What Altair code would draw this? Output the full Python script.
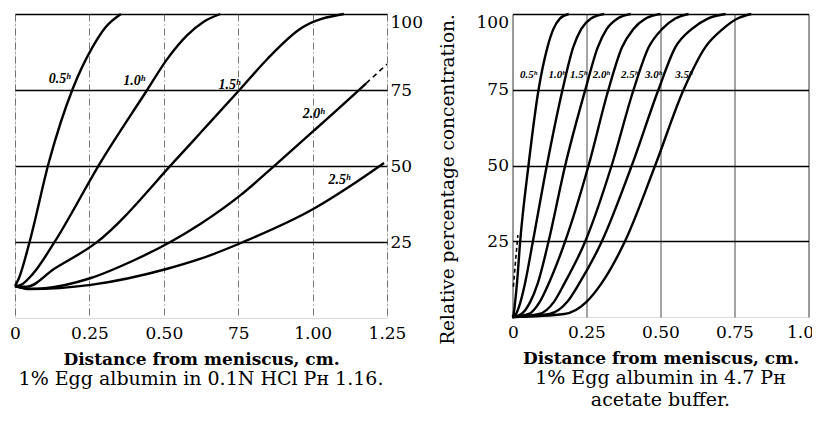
import altair as alt
import pandas as pd

FONT = "DejaVu Serif"
LABEL_FONT = "Liberation Serif"

# ---------------- Left panel: 1% egg albumin in 0.1N HCl ----------------
L_X_TICKS = [0, 0.25, 0.5, 0.75, 1.0, 1.25]
L_X_LABELS = ["0", "0.25", "0.50", "75", "1.00", "1.25"]
Y_TICKS = [25, 50, 75, 100]
Y_LABELS = ["25", "50", "75", "100"]

L_NAMES = ["0.5ʰ", "1.0ʰ", "1.5ʰ", "2.0ʰ", "2.5ʰ"]
L05_X = [0, 0.012, 0.049, 0.114, 0.194, 0.26, 0.305, 0.356]
L05_Y = [10.5, 12.8, 25, 51.3, 75.4, 89, 95.7, 100]
L10_X = [0, 0.02, 0.06, 0.131, 0.288, 0.444, 0.51, 0.578, 0.633, 0.69]
L10_Y = [10.5, 10.9, 14.5, 24.7, 51.3, 75, 85, 93, 97.4, 100]
L15_X = [0, 0.04, 0.132, 0.272, 0.54, 0.624, 0.758, 0.848, 0.96, 1.105]
L15_Y = [10.5, 10.3, 16.2, 24.7, 52, 61, 75.4, 85.2, 95.2, 100]
L20_X = [0, 0.05, 0.1, 0.25, 0.4, 0.522, 0.624, 0.758, 0.88, 1.005, 1.16, 1.18]
L20_Y = [10.5, 9.6, 9.8, 13, 19, 25, 31, 40.4, 50.8, 61.7, 75.4, 77.2]
L25_X = [0, 0.05, 0.255, 0.512, 0.624, 0.767, 1.005, 1.128, 1.24]
L25_Y = [10.5, 9.5, 10.9, 16.2, 19.5, 25, 36, 43.5, 51]
L20_DASH_X = [1.18, 1.25]
L20_DASH_Y = [77.2, 83.5]
L_LABEL_X = [0.15, 0.40, 0.72, 1.003, 1.09]
L_LABEL_Y = [78.7, 78.0, 76.5, 67.2, 45.3]

# ---------------- Right panel: 1% egg albumin in 4.7 pH acetate buffer ----------------
R_X_TICKS = [0, 0.25, 0.5, 0.75, 1.0]
R_X_LABELS = ["0", "0.25", "0.50", "0.75", "1.0"]
R_NAMES = ["0.5ʰ", "1.0ʰ", "1.5ʰ", "2.0ʰ", "2.5ʰ", "3.0ʰ", "3.5ʰ"]
R_Y = [0, 1, 5, 11, 25, 50, 75, 89, 95, 98.5, 100]
R05_X = [0, 0.004, 0.009, 0.015, 0.026, 0.054, 0.088, 0.118, 0.138, 0.16, 0.19]
R10_X = [0, 0.012, 0.027, 0.042, 0.069, 0.116, 0.169, 0.205, 0.232, 0.265, 0.31]
R15_X = [0, 0.03, 0.06, 0.085, 0.122, 0.178, 0.246, 0.288, 0.318, 0.355, 0.40]
R20_X = [0, 0.055, 0.092, 0.122, 0.178, 0.257, 0.324, 0.37, 0.408, 0.45, 0.50]
R25_X = [0, 0.09, 0.14, 0.175, 0.246, 0.335, 0.409, 0.46, 0.505, 0.55, 0.595]
R30_X = [0, 0.125, 0.185, 0.225, 0.302, 0.403, 0.493, 0.55, 0.605, 0.66, 0.72]
R35_X = [0, 0.175, 0.25, 0.3, 0.38, 0.482, 0.578, 0.651, 0.71, 0.76, 0.807]
R_DASH_X = [0.003, 0.009, 0.018]
R_DASH_Y = [10, 17, 27]
R_LABEL_X = [0.054, 0.15, 0.223, 0.30, 0.395, 0.476, 0.578]
R_LABEL_Y = [80, 80, 80, 80, 80, 80, 80]


def long_df(names, xs_list, ys_list):
    rows = []
    for n, xs, ys in zip(names, xs_list, ys_list):
        for i, (x, y) in enumerate(zip(xs, ys)):
            rows.append({"curve": n, "x": x, "y": y, "i": i})
    return pd.DataFrame(rows)


def label_expr(ticks, labels):
    expr = "''"
    for t, l in reversed(list(zip(ticks, labels))):
        expr = f"abs(datum.value - {t}) < 1e-6 ? '{l}' : " + expr
    return expr


left_df = long_df(L_NAMES, [L05_X, L10_X, L15_X, L20_X, L25_X],
                  [L05_Y, L10_Y, L15_Y, L20_Y, L25_Y])
left_dash = pd.DataFrame({"x": L20_DASH_X, "y": L20_DASH_Y, "curve": "2.0d"})
left_lab = pd.DataFrame({"x": L_LABEL_X, "y": L_LABEL_Y, "t": L_NAMES})

right_df = long_df(R_NAMES, [R05_X, R10_X, R15_X, R20_X, R25_X, R30_X, R35_X],
                   [R_Y] * 7)
right_dash = pd.DataFrame({"x": R_DASH_X, "y": R_DASH_Y, "curve": "d"})
right_lab = pd.DataFrame({"x": R_LABEL_X, "y": R_LABEL_Y, "t": R_NAMES})

LBL = 17

# ---- left panel encodings ----
lx = alt.X("x:Q", scale=alt.Scale(domain=[0, 1.25], nice=False),
           axis=alt.Axis(values=L_X_TICKS, labelExpr=label_expr(L_X_TICKS, L_X_LABELS),
                         grid=True, gridDash=[7, 3, 1, 3], gridColor="#555", gridWidth=0.8,
                         ticks=False, domain=False, labelFont=FONT, labelFontSize=LBL,
                         labelColor="black", labelPadding=7, labelFlush=False,
                         title="Distance from meniscus, cm.", titleFont=FONT,
                         titleFontSize=17, titleFontWeight="bold", titleColor="black",
                         titlePadding=10))
ly = alt.Y("y:Q", scale=alt.Scale(domain=[0, 100], nice=False),
           axis=alt.Axis(orient="right", values=Y_TICKS,
                         labelExpr=label_expr(Y_TICKS, Y_LABELS),
                         grid=True, gridColor="black", gridWidth=1.3,
                         ticks=False, domain=False, labelFont=FONT, labelFontSize=LBL,
                         labelColor="black", labelPadding=3, labelFlush=True,
                         labelFlushOffset=0, title=None))

l_lines = alt.Chart(left_df).mark_line(color="black", strokeWidth=2.4,
                                      interpolate="monotone").encode(
    x=lx, y=ly, detail="curve:N", order="i:Q")
l_dash = alt.Chart(left_dash).mark_line(color="black", strokeWidth=1.6,
                                       strokeDash=[5, 4]).encode(x="x:Q", y="y:Q")
l_text = alt.Chart(left_lab).mark_text(font=LABEL_FONT, fontSize=14, fontStyle="italic",
                                      fontWeight="bold", color="black").encode(
    x="x:Q", y="y:Q", text="t:N")

left = alt.layer(l_lines, l_dash, l_text).properties(
    width=372, height=304,
    title=alt.TitleParams(text="1% Egg albumin in 0.1N HCl Pʜ 1.16.", orient="bottom",
                          anchor="middle", font=FONT, fontSize=19, fontWeight="normal",
                          color="black", offset=3))

# ---- right panel encodings ----
rx = alt.X("x:Q", scale=alt.Scale(domain=[0, 1.0], nice=False),
           axis=alt.Axis(values=R_X_TICKS, labelExpr=label_expr(R_X_TICKS, R_X_LABELS),
                         grid=True, gridColor="#333", gridWidth=0.9,
                         ticks=False, domain=False, labelFont=FONT, labelFontSize=LBL,
                         labelColor="black", labelPadding=7, labelFlush=True,
                         labelFlushOffset=5,
                         title="Distance from meniscus, cm.", titleFont=FONT,
                         titleFontSize=17, titleFontWeight="bold", titleColor="black",
                         titlePadding=10))
ry = alt.Y("y:Q", scale=alt.Scale(domain=[0, 100], nice=False),
           axis=alt.Axis(orient="left", values=Y_TICKS,
                         labelExpr=label_expr(Y_TICKS, Y_LABELS),
                         grid=True, gridColor="black", gridWidth=1.3,
                         ticks=False, domain=False, labelFont=FONT, labelFontSize=LBL,
                         labelColor="black", labelPadding=4, labelFlush=True,
                         labelFlushOffset=0,
                         title="Relative percentage concentration.", titleFont=FONT,
                         titleFontSize=18.5, titleFontWeight="normal", titleColor="black",
                         titleBaseline="alphabetic", titleX=-59, titleY=165))

r_lines = alt.Chart(right_df).mark_line(color="black", strokeWidth=2.4,
                                       interpolate="monotone").encode(
    x=rx, y=ry, detail="curve:N", order="i:Q")
r_dash = alt.Chart(right_dash).mark_line(color="black", strokeWidth=1.6,
                                        strokeDash=[4, 3]).encode(x="x:Q", y="y:Q")
r_text = alt.Chart(right_lab).mark_text(font=LABEL_FONT, fontSize=11, fontStyle="italic",
                                       fontWeight="bold", color="black").encode(
    x="x:Q", y="y:Q", text="t:N")

right = alt.layer(r_lines, r_dash, r_text).properties(
    width=296, height=303,
    title=alt.TitleParams(text=["1% Egg albumin in 4.7 Pʜ", "acetate buffer."],
                          orient="bottom", anchor="middle", font=FONT, fontSize=19,
                          fontWeight="normal", color="black", offset=3, lineHeight=22))

chart = alt.hconcat(left, right, spacing=14.5).properties(
    padding={"left": 1, "top": 0, "right": -2, "bottom": -1}
).configure_view(stroke="black", strokeWidth=2.2).configure(background="white")

chart.save("out.html", embed_options={"renderer": "svg", "actions": False})
